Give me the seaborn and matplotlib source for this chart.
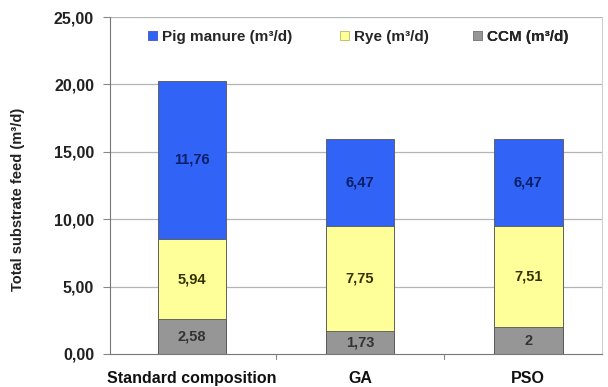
import matplotlib
matplotlib.use("Agg")
import matplotlib.pyplot as plt
import seaborn as sns
import pandas as pd
from matplotlib.patches import Patch

# Substrate feed per scenario (m³/d)
scenarios = ["Standard composition", "GA", "PSO"]
ccm = [2.58, 1.73, 2.0]
rye = [5.94, 7.75, 7.51]
pig_manure = [11.76, 6.47, 6.47]

ccm_labels = ["2,58", "1,73", "2"]
rye_labels = ["5,94", "7,75", "7,51"]
pig_labels = ["11,76", "6,47", "6,47"]

yticks = [0, 5, 10, 15, 20, 25]
ytick_labels = ["0,00", "5,00", "10,00", "15,00", "20,00", "25,00"]

c_pig = "#3163f7"
c_rye = "#ffff99"
c_ccm = "#969696"

sns.set_theme(style="white")
plt.rcParams["font.family"] = ["Liberation Sans", "DejaVu Sans"]
plt.rcParams["font.weight"] = "bold"

df = pd.DataFrame({
    "scenario": scenarios,
    "ccm": ccm,
    "rye": rye,
    "pig": pig_manure,
})
df["lvl1"] = df["ccm"]
df["lvl2"] = df["ccm"] + df["rye"]
df["lvl3"] = df["ccm"] + df["rye"] + df["pig"]

fig = plt.figure(figsize=(6.08, 3.87), dpi=100)
ax = fig.add_axes([110 / 608, 33 / 387, (602 - 110) / 608, (354 - 17) / 387])

ax.set_axisbelow(True)
for y in yticks[1:]:
    ax.axhline(y, color="#b4b4b4", lw=0.9, zorder=0)

width = 0.41
for col, color in [("lvl3", c_pig), ("lvl2", c_rye), ("lvl1", c_ccm)]:
    sns.barplot(data=df, x="scenario", y=col, color=color, width=width,
                saturation=1, edgecolor="#555555", linewidth=0.6, ax=ax,
                order=scenarios)

lab_fs = 10.5
for i in range(len(scenarios)):
    ax.text(i, ccm[i] / 2, ccm_labels[i], ha="center", va="center",
            fontsize=lab_fs, fontweight="bold", color="#333333")
    ax.text(i, ccm[i] + rye[i] / 2, rye_labels[i], ha="center", va="center",
            fontsize=lab_fs, fontweight="bold", color="#333300")
    ax.text(i, ccm[i] + rye[i] + pig_manure[i] / 2, pig_labels[i],
            ha="center", va="center", fontsize=lab_fs, fontweight="bold",
            color="#0a1f66")

ax.set_xlim(-0.488, 2.44)
ax.set_ylim(0, 25)
ax.set_yticks(yticks)
ax.set_yticklabels(ytick_labels, fontsize=11.5, fontweight="bold", color="#222222")
ax.set_xticks(range(len(scenarios)))
ax.set_xticklabels(scenarios, fontsize=11.5, fontweight="bold", color="#111111")
ax.tick_params(axis="x", length=0, pad=12)
ax.tick_params(axis="y", length=5, width=0.8, color="#888888", left=True, pad=6.5)
# small separators between categories
for xs in [0.5, 1.5]:
    ax.plot([xs, xs], [0, -0.35], color="#888888", lw=0.8, clip_on=False)

ax.set_xlabel("")
ax.set_ylabel("Total substrate feed (m³/d)", fontsize=10.5, fontweight="bold",
              color="#222222")
ax.yaxis.set_label_coords(-0.172, 0.46)

ax.spines["top"].set_visible(False)
ax.spines["right"].set_color("#d0d0d0")
ax.spines["right"].set_linewidth(0.8)
for s in ["left", "bottom"]:
    ax.spines[s].set_color("#777777")
    ax.spines[s].set_linewidth(0.8)

# Legend entries placed in slots across the top
entries = [
    (Patch(facecolor=c_pig, edgecolor="#3344aa", linewidth=0.5), "Pig manure (m³/d)", 0.077),
    (Patch(facecolor=c_rye, edgecolor="#aaaa55", linewidth=0.5), "Rye (m³/d)", 0.4675),
    (Patch(facecolor=c_ccm, edgecolor="#777777", linewidth=0.5), "CCM (m³/d)", 0.738),
]
for handle, text, xpos in entries:
    leg = ax.legend([handle], [text], loc="center left",
                    bbox_to_anchor=(xpos, 0.941), frameon=False,
                    borderpad=0, borderaxespad=0, handlelength=0.6,
                    handleheight=0.55, handletextpad=0.3,
                    prop={"weight": "bold", "size": 11})
    ax.add_artist(leg)

fig.savefig("out.png", dpi=100)
